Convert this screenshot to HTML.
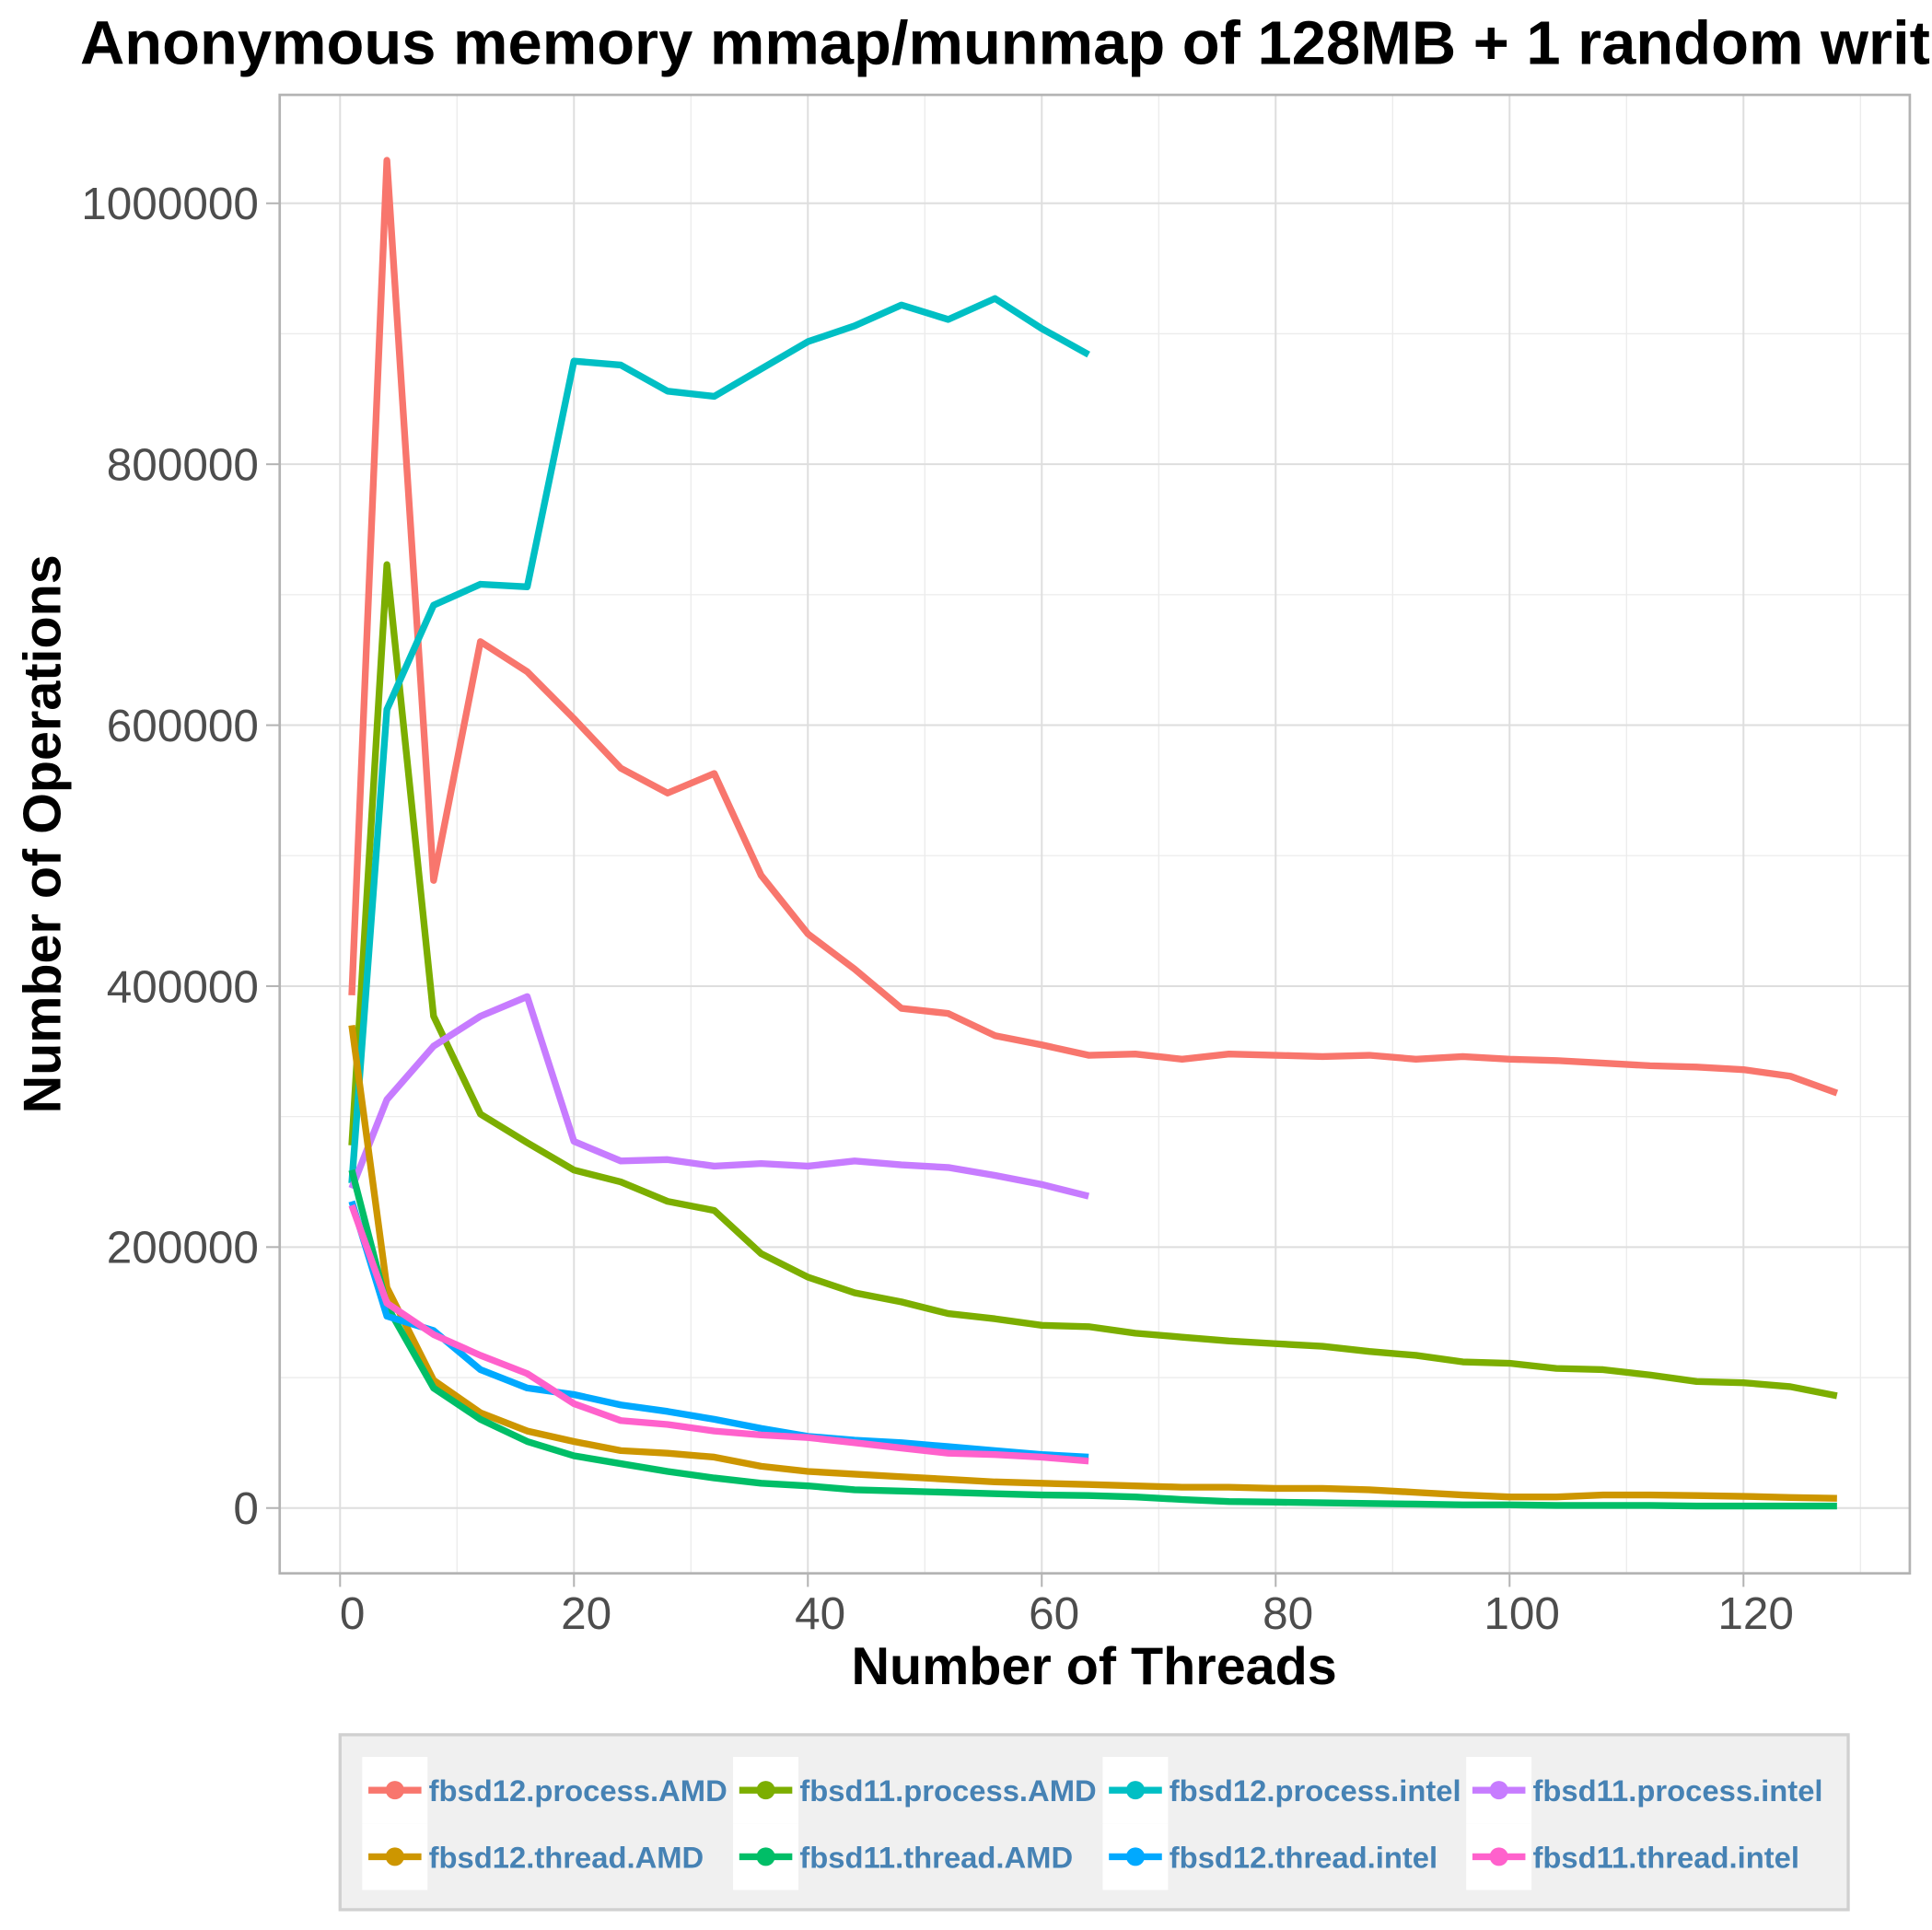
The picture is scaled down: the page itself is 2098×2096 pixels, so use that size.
<!DOCTYPE html>
<html><head><meta charset="utf-8"><style>
html,body{margin:0;padding:0;background:#fff;}
svg{display:block;font-family:"Liberation Sans",sans-serif;}
</style></head><body>
<svg id="chart" width="2098" height="2096" viewBox="0 0 1568 1566.5" preserveAspectRatio="none" xmlns="http://www.w3.org/2000/svg">
<text x="65" y="52" font-size="50" font-weight="bold" fill="#000">Anonymous memory mmap/munmap of 128MB + 1 random write per thread</text>
<rect x="227" y="77" width="1323" height="1200" fill="#fff"/>
<g id="grid"></g>
<g id="series"></g>
<rect x="227" y="77" width="1323" height="1200" fill="none" stroke="#b3b3b3" stroke-width="2"/>
<g id="axes"></g>
<text x="888" y="1367" font-size="43" font-weight="bold" text-anchor="middle">Number of Threads</text>
<text transform="translate(49,677) rotate(-90)" font-size="43" font-weight="bold" text-anchor="middle">Number of Operations</text>
<g id="legend"></g>
</svg>
<script>
const NS="http://www.w3.org/2000/svg";
const xTicks=[0,20,40,60,80,100,120];
const xMinor=[10,30,50,70,90,110,130];
const yTicks=[0,200000,400000,600000,800000,1000000];
const yMinor=[100000,300000,500000,700000,900000];
const seriesNames=["fbsd12.process.AMD","fbsd11.process.AMD","fbsd12.process.intel","fbsd11.process.intel","fbsd12.thread.AMD","fbsd11.thread.AMD","fbsd12.thread.intel","fbsd11.thread.intel"];
const seriesColors=["#F8766D","#7CAE00","#00BFC4","#C77CFF","#CD9600","#00BE67","#00A9FF","#FF61CC"];
const threadsIntel=[1,4,8,12,16,20,24,28,32,36,40,44,48,52,56,60,64];
const threadsAMD=[1,4,8,12,16,20,24,28,32,36,40,44,48,52,56,60,64,68,72,76,80,84,88,92,96,100,104,108,112,116,120,124,128];
const p12AMD=[393000,1033000,481000,664000,641000,605000,567000,548000,563000,485000,440000,413000,383000,379000,362000,355000,347000,348000,344000,348000,347000,346000,347000,344000,346000,344000,343000,341000,339000,338000,336000,331000,318000];
const p11AMD=[278000,723000,377000,302000,280000,259000,250000,235000,228000,195000,177000,165000,158000,149000,145000,140000,139000,134000,131000,128000,126000,124000,120000,117000,112000,111000,107000,106000,102000,97000,96000,93000,86000];
const p12Intel=[249000,612000,692000,708000,706000,879000,876000,856000,852000,873000,894000,906000,922000,911000,927000,904000,884000];
const p11Intel=[245000,313000,354000,377000,392000,281000,266000,267000,262000,264000,262000,266000,263000,261000,255000,248000,239000];
const t12AMD=[370000,169000,98000,73000,59000,51000,44000,42000,39000,32000,28000,26000,24000,22000,20000,19000,18000,17000,16000,16000,15000,15000,14000,12000,10000,8500,8500,10000,10000,9500,9000,8000,7500];
const t11AMD=[259000,155000,92000,68000,51000,40000,34000,28000,23000,19000,17000,14000,13000,12000,11000,10000,9500,8500,6500,5000,4500,4000,3500,3000,2500,2500,2000,2000,2000,1500,1500,1500,1500];
const t12Intel=[235000,147000,136000,106000,92000,87000,79000,74000,68000,61000,55000,52000,50000,47000,44000,41000,39000];
const t11Intel=[232000,157000,133000,117000,103000,80000,67000,64000,59000,56000,54000,50000,46000,42000,41000,39000,36000];
const seriesValues=[p12AMD,p11AMD,p12Intel,p11Intel,t12AMD,t11AMD,t12Intel,t11Intel];
const seriesX=[threadsAMD,threadsAMD,threadsIntel,threadsIntel,threadsAMD,threadsAMD,threadsIntel,threadsIntel];

const xs=v=>276+v*(1415-276)/120;
const ys=v=>1224-v*(1224-165)/1000000;
function mk(tag,attrs,parent){const e=document.createElementNS(NS,tag);for(const k in attrs)e.setAttribute(k,attrs[k]);parent.appendChild(e);return e;}
const grid=document.getElementById('grid'),axes=document.getElementById('axes'),ser=document.getElementById('series'),leg=document.getElementById('legend');
yMinor.forEach(v=>{const l=mk('line',{x1:227,x2:1550,y1:ys(v),y2:ys(v),stroke:'#ececec','stroke-width':1},grid);});
xMinor.forEach(v=>{if(xs(v)>1550)return;const l=mk('line',{x1:xs(v),x2:xs(v),y1:77,y2:1277,stroke:'#ececec','stroke-width':1},grid);});
yTicks.forEach(v=>{const l=mk('line',{x1:227,x2:1550,y1:ys(v),y2:ys(v),stroke:'#dedede','stroke-width':1.5},grid);
 const t=mk('line',{x1:216,x2:227,y1:ys(v),y2:ys(v),stroke:'#b3b3b3','stroke-width':1.5},axes);
 const tx=mk('text',{x:210,y:ys(v)+13,'font-size':37,fill:'#4d4d4d','text-anchor':'end'},axes);tx.textContent=String(v);});
xTicks.forEach(v=>{const l=mk('line',{x1:xs(v),x2:xs(v),y1:77,y2:1277,stroke:'#dedede','stroke-width':1.5},grid);
 const t=mk('line',{x1:xs(v),x2:xs(v),y1:1277,y2:1288,stroke:'#b3b3b3','stroke-width':1.5},axes);
 const tx=mk('text',{x:xs(v)+10,y:1322,'font-size':37,fill:'#4d4d4d','text-anchor':'middle'},axes);tx.textContent=String(v);});
seriesValues.forEach((vals,i)=>{const X=seriesX[i];const pts=vals.map((v,j)=>xs(X[j]).toFixed(1)+','+ys(v).toFixed(1)).join(' ');
 const p=mk('polyline',{points:pts,fill:'none',stroke:seriesColors[i],'stroke-width':5.5,'stroke-linejoin':'round'},ser);
 
 });
const box=mk('rect',{x:276,y:1408,width:1224,height:142,fill:'#f0f0f0',stroke:'#d0d0d0','stroke-width':2.5},leg);


const colX=[294,595,895,1190];
seriesNames.forEach((n,i)=>{const c=i%4,r=Math.floor(i/4);const kx=colX[c],cy=1453+r*54;
 const g=mk('g',{},leg);
 mk('rect',{x:kx,y:cy-27,width:53,height:54,fill:'#fff'},g);
 mk('line',{x1:kx+5,x2:kx+48,y1:cy,y2:cy,stroke:seriesColors[i],'stroke-width':5.5},g);
 mk('circle',{cx:kx+26.5,cy:cy,r:7.5,fill:seriesColors[i]},g);
 const t=mk('text',{x:kx+54,y:cy+9,'font-size':24.5,'font-weight':'bold',fill:'#4682b4'},g);t.textContent=n;});
</script>
</body></html>
